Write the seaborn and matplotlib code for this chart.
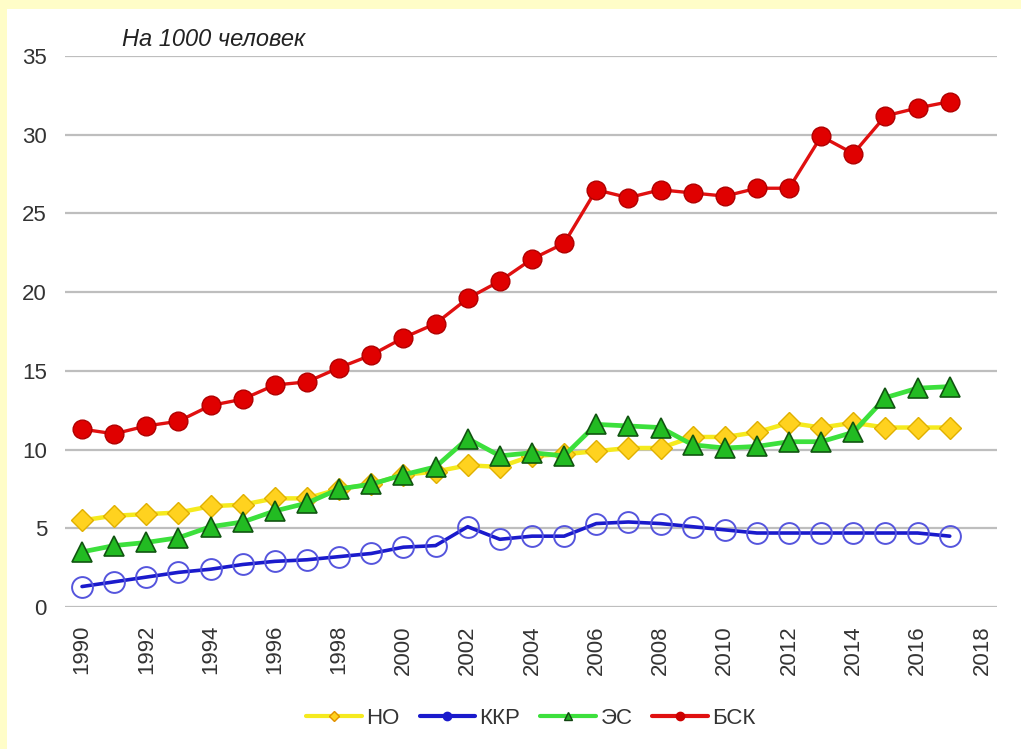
import matplotlib
matplotlib.use("Agg")
import matplotlib.pyplot as plt
import seaborn as sns
import pandas as pd
from matplotlib.lines import Line2D
from matplotlib.patches import Rectangle

years = list(range(1990, 2018))
ho = [5.5, 5.8, 5.9, 6.0, 6.4, 6.5, 6.9, 6.9, 7.5, 7.8, 8.4, 8.6, 9.0, 8.9,
      9.6, 9.7, 9.9, 10.1, 10.1, 10.8, 10.8, 11.1, 11.7, 11.4, 11.7, 11.4, 11.4, 11.4]
kkr = [1.3, 1.6, 1.9, 2.2, 2.4, 2.7, 2.9, 3.0, 3.2, 3.4, 3.8, 3.9, 5.1, 4.3,
       4.5, 4.5, 5.3, 5.4, 5.3, 5.1, 4.9, 4.7, 4.7, 4.7, 4.7, 4.7, 4.7, 4.5]
es = [3.5, 3.9, 4.1, 4.4, 5.1, 5.4, 6.1, 6.6, 7.5, 7.8, 8.4, 8.9, 10.7, 9.6,
      9.8, 9.6, 11.6, 11.5, 11.4, 10.3, 10.1, 10.2, 10.5, 10.5, 11.1, 13.3, 13.9, 14.0]
bsk = [11.3, 11.0, 11.5, 11.8, 12.8, 13.2, 14.1, 14.3, 15.2, 16.0, 17.1, 18.0, 19.6, 20.7,
       22.1, 23.1, 26.5, 26.0, 26.5, 26.3, 26.1, 26.6, 26.6, 29.9, 28.8, 31.2, 31.7, 32.1]
series_names = ["НО", "ККР", "ЭС", "БСК"]
xticks = list(range(1990, 2019, 2))
yticks = [0, 5, 10, 15, 20, 25, 30, 35]
note = "На 1000 человек"

sns.set_theme(style="white")
plt.rcParams['font.family'] = ['Liberation Sans', 'DejaVu Sans']

fig = plt.figure(figsize=(10.21, 7.49), dpi=100)
fig.patch.set_facecolor("white")
ax = fig.add_axes([65/1021, 1-607/749, (997-65)/1021, (607-56)/749])
ax.set_facecolor("white")

df = pd.DataFrame({"year": years, "НО": ho, "ККР": kkr, "ЭС": es, "БСК": bsk})

styles = {
    "НО": dict(color="#F5EA1E", lw=3.2, marker="D", ms=11.5, mfc="#FFD21F", mec="#E0B000", mew=1.0),
    "ККР": dict(color="#1A1ACC", lw=2.6, marker="o", ms=15, mfc="none", mec="#5555DD", mew=1.4),
    "ЭС": dict(color="#3CE03C", lw=3.4, marker="^", ms=14, mfc="#22BB22", mec="#115511", mew=1.2),
    "БСК": dict(color="#E01010", lw=2.4, marker="o", ms=13.5, mfc="#E00000", mec="#B00000", mew=1.0),
}
order = ["ККР", "НО", "ЭС", "БСК"]
for name in order:
    st = styles[name]
    sns.lineplot(data=df, x="year", y=name, ax=ax, color=st["color"], linewidth=st["lw"],
                 marker=st["marker"], markersize=st["ms"], markerfacecolor=st["mfc"],
                 markeredgecolor=st["mec"], markeredgewidth=st["mew"], legend=False,
                 zorder=3)

ax.set_xlim(1989.47, 2018.47)
ax.set_ylim(0, 35)
ax.set_xticks(xticks)
ax.set_xticklabels([str(t) for t in xticks], rotation=90)
ax.set_yticks(yticks)
ax.set_xlabel("")
ax.set_ylabel("")
ax.grid(axis="y", color="#BEBEBE", linewidth=1.6)
ax.grid(axis="x", visible=False)
ax.set_axisbelow(True)
for s in ax.spines.values():
    s.set_visible(False)
ax.tick_params(axis="y", length=0, pad=13, labelsize=16, labelcolor="#333333")
ax.tick_params(axis="x", length=0, pad=13, labelsize=16, labelcolor="#333333")

ax.text(122/1021, 1-40/749, note, transform=fig.transFigure, fontsize=17,
        style="italic", color="#222222", va="center", ha="left")

handles = []
leg_st = {
    "НО": dict(color="#F5EA1E", lw=3.0, marker="D", ms=5, mfc="#FFD21F", mec="#E09000"),
    "ККР": dict(color="#1A1ACC", lw=3.0, marker="o", ms=6, mfc="#1A1ACC", mec="#1A1ACC"),
    "ЭС": dict(color="#3CE03C", lw=3.0, marker="^", ms=6, mfc="#22AA22", mec="#114411"),
    "БСК": dict(color="#E01010", lw=3.0, marker="o", ms=6, mfc="#CC0000", mec="#CC0000"),
}
for name in series_names:
    st = leg_st[name]
    handles.append(Line2D([], [], color=st["color"], lw=st["lw"], marker=st["marker"],
                          ms=st["ms"], mfc=st["mfc"], mec=st["mec"]))
fig.legend(handles, series_names, loc="center", bbox_to_anchor=(531/1021, 1-718/749),
           ncol=4, frameon=False, fontsize=16, handlelength=2.5, handletextpad=0.2,
           columnspacing=0.9, labelcolor="#333333")

fig.patches.append(Rectangle((0, 0), 7/1021, 1, transform=fig.transFigure,
                             facecolor="#FFFDC8", edgecolor="none", zorder=0))
fig.patches.append(Rectangle((0, 1-9/749), 1, 9/749, transform=fig.transFigure,
                             facecolor="#FFFDC8", edgecolor="none", zorder=0))

fig.savefig("out.png", dpi=100, facecolor="white")
